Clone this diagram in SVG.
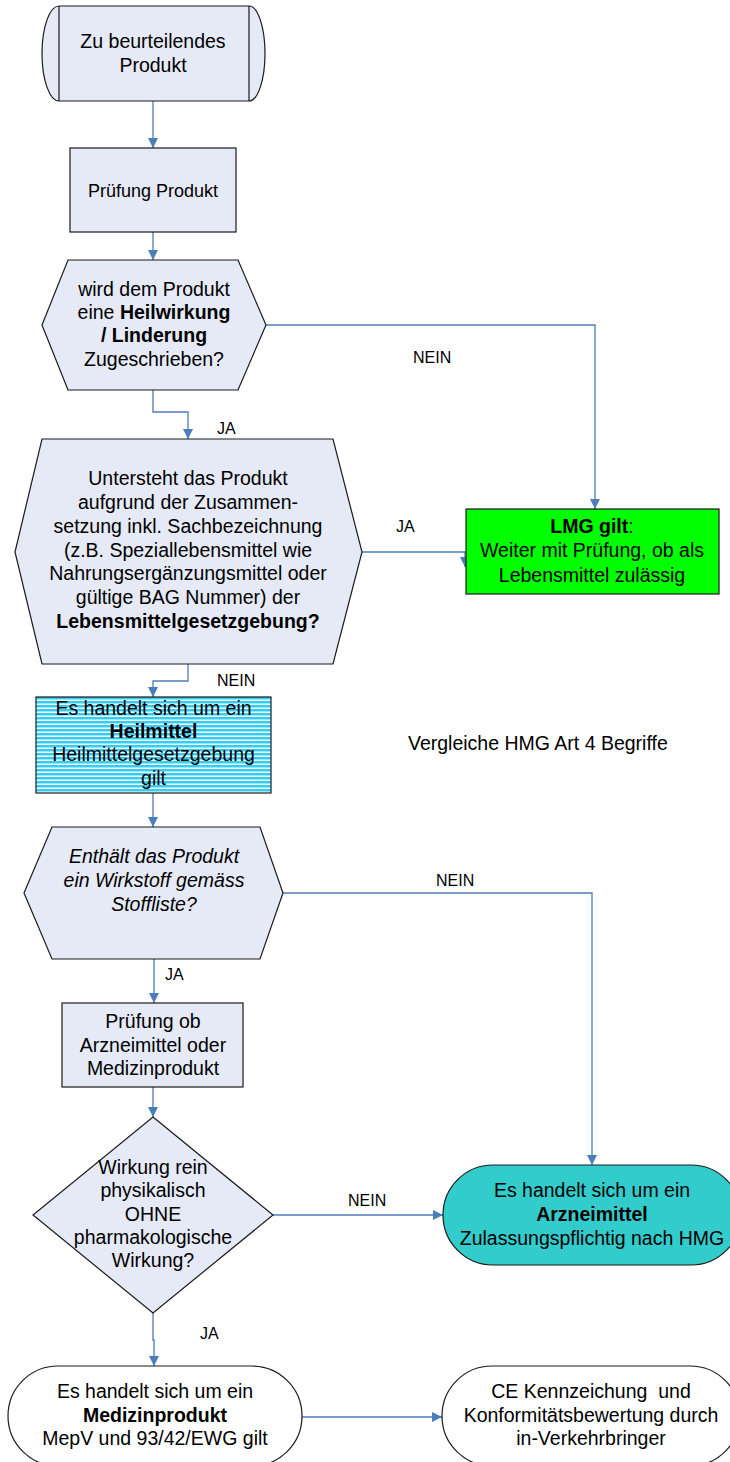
<svg xmlns="http://www.w3.org/2000/svg" width="730" height="1462" viewBox="0 0 730 1462">
<style>
.n{fill:#e5eaf6;stroke:#1a1a1a;stroke-width:1.2}
.t{font-family:"Liberation Sans",Arial,sans-serif;font-size:19.5px;fill:#000;text-anchor:middle}
.b{font-weight:bold}
.l{font-family:"Liberation Sans",Arial,sans-serif;font-size:16px;fill:#000}
.c{fill:none;stroke:#4a7ebb;stroke-width:1.3;marker-end:url(#ah)}
</style>
<defs>
<marker id="ah" markerUnits="userSpaceOnUse" viewBox="0 0 10 10" refX="10" refY="5" markerWidth="10" markerHeight="10" orient="auto">
<path d="M0,0 L10,5 L0,10 z" fill="#4a7ebb"/>
</marker>
<pattern id="stripes" patternUnits="userSpaceOnUse" x="0" y="697" width="10" height="4">
<rect width="10" height="4" fill="#ffffff"/>
<rect width="10" height="2.5" fill="#30cdf5"/>
</pattern>
</defs>

<g id="connectors">
<path class="c" d="M153,101 V148"/>
<path class="c" d="M153,232 V260"/>
<path class="c" d="M153,390 V412 H188 V439"/>
<path class="c" d="M266,325 H595 V509"/>
<path class="c" d="M362,552 H465 V567"/>
<path class="c" d="M188,664 V681 H153 V697"/>
<path class="c" d="M153,793 V827"/>
<path class="c" d="M283,893 H592 V1165"/>
<path class="c" d="M154,959 V1003"/>
<path class="c" d="M153,1087 V1117"/>
<path class="c" d="M273,1215 H443"/>
<path class="c" d="M153,1313 V1340 H154 V1366"/>
<path class="c" d="M302,1417 H442"/>
<text class="l" x="413" y="363">NEIN</text>
<text class="l" x="217" y="434">JA</text>
<text class="l" x="396" y="532">JA</text>
<text class="l" x="217" y="686">NEIN</text>
<text class="l" x="436" y="886">NEIN</text>
<text class="l" x="165" y="980">JA</text>
<text class="l" x="348" y="1206">NEIN</text>
<text class="l" x="200" y="1339">JA</text>
</g>

<g id="start">
<path class="n" d="M59,6 H249 A16,47.5 0 0 1 249,101 H59 A17,47.5 0 0 1 59,6 Z"/>
<path d="M59,6 V101 M249,6 V101" stroke="#1a1a1a" stroke-width="1.2" fill="none"/>
<text class="t" x="153" y="48">Zu beurteilendes</text>
<text class="t" x="153" y="72">Produkt</text>
</g>

<g id="pruefung">
<rect class="n" x="70" y="148" width="166" height="84"/>
<text class="t" x="153" y="197" style="font-size:18px">Prüfung Produkt</text>
</g>

<g id="heilwirkung">
<polygon class="n" points="68,260 238,260 266,325 238,390 68,390 42,325"/>
<text class="t" x="154" y="296">wird dem Produkt</text>
<text class="t" x="154" y="319">eine <tspan class="b">Heilwirkung</tspan></text>
<text class="t b" x="154" y="342">/ Linderung</text>
<text class="t" x="154" y="366">Zugeschrieben?</text>
</g>

<g id="lebensmittel">
<polygon class="n" points="42,439 333,439 362,552 333,664 42,664 15,552"/>
<text class="t" x="188" y="485">Untersteht das Produkt</text>
<text class="t" x="188" y="509">aufgrund der Zusammen-</text>
<text class="t" x="188" y="533">setzung inkl. Sachbezeichnung</text>
<text class="t" x="188" y="557">(z.B. Speziallebensmittel wie</text>
<text class="t" x="188" y="580">Nahrungsergänzungsmittel oder</text>
<text class="t" x="188" y="604">gültige BAG Nummer) der</text>
<text class="t b" x="188" y="628">Lebensmittelgesetzgebung?</text>
</g>

<g id="lmg">
<rect x="466" y="509" width="253" height="85" fill="#00ff00" stroke="#1a1a1a" stroke-width="1.2"/>
<text class="t" x="592" y="533"><tspan class="b">LMG gilt</tspan>:</text>
<text class="t" x="592" y="557">Weiter mit Prüfung, ob als</text>
<text class="t" x="592" y="582">Lebensmittel zulässig</text>
</g>

<g id="heilmittel">
<rect x="36" y="697" width="235" height="96" fill="url(#stripes)" stroke="#1a1a1a" stroke-width="1.2"/>
<text class="t" x="153.5" y="715">Es handelt sich um ein</text>
<text class="t b" x="153.5" y="738">Heilmittel</text>
<text class="t" x="153.5" y="761">Heilmittelgesetzgebung</text>
<text class="t" x="153.5" y="785">gilt</text>
</g>

<g id="vergleiche">
<text class="t" x="408" y="750" style="text-anchor:start">Vergleiche HMG Art 4 Begriffe</text>
</g>

<g id="wirkstoff">
<polygon class="n" points="52,827 260,827 283,893 260,959 52,959 24,893"/>
<text class="t" x="154" y="863" font-style="italic">Enthält das Produkt</text>
<text class="t" x="154" y="887" font-style="italic">ein Wirkstoff gemäss</text>
<text class="t" x="154" y="911" font-style="italic">Stoffliste?</text>
</g>

<g id="pruefung2">
<rect class="n" x="62" y="1003" width="181" height="84"/>
<text class="t" x="153" y="1028">Prüfung ob</text>
<text class="t" x="153" y="1052">Arzneimittel oder</text>
<text class="t" x="153" y="1075">Medizinprodukt</text>
</g>

<g id="wirkung">
<polygon class="n" points="153,1117 273,1215 153,1313 33,1215"/>
<text class="t" x="153" y="1174">Wirkung rein</text>
<text class="t" x="153" y="1197">physikalisch</text>
<text class="t" x="153" y="1221">OHNE</text>
<text class="t" x="153" y="1244">pharmakologische</text>
<text class="t" x="153" y="1267">Wirkung?</text>
</g>

<g id="arzneimittel">
<rect x="443" y="1165" width="298" height="100" rx="50" ry="50" fill="#33cccc" stroke="#1a1a1a" stroke-width="1.2"/>
<text class="t" x="592" y="1197">Es handelt sich um ein</text>
<text class="t b" x="592" y="1221">Arzneimittel</text>
<text class="t" x="592" y="1245">Zulassungspflichtig nach HMG</text>
</g>

<g id="medizinprodukt">
<rect x="8" y="1366" width="294" height="100" rx="50" ry="50" fill="#ffffff" stroke="#1a1a1a" stroke-width="1.2"/>
<text class="t" x="155" y="1398">Es handelt sich um ein</text>
<text class="t b" x="155" y="1422">Medizinprodukt</text>
<text class="t" x="155" y="1445">MepV und 93/42/EWG gilt</text>
</g>

<g id="ce">
<rect x="442" y="1366" width="298" height="100" rx="50" ry="50" fill="#ffffff" stroke="#1a1a1a" stroke-width="1.2"/>
<text class="t" x="591" y="1398" xml:space="preserve">CE Kennzeichung  und</text>
<text class="t" x="591" y="1422">Konformitätsbewertung durch</text>
<text class="t" x="591" y="1445">in-Verkehrbringer</text>
</g>
</svg>
